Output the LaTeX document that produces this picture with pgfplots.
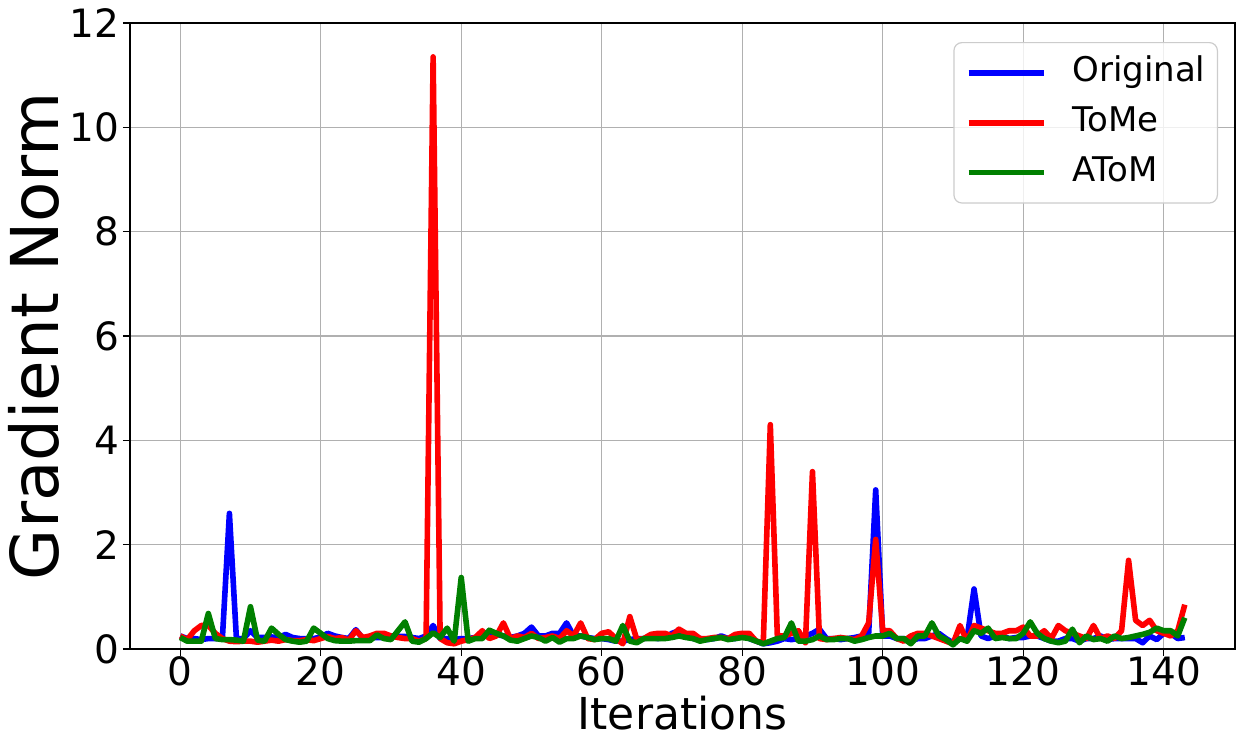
\documentclass[border=0pt]{standalone}
\usepackage{fontspec}
\setmainfont{DejaVu Sans}
\usepackage{pgfplots}
\pgfplotsset{compat=1.18}
\definecolor{mplgrid}{RGB}{176,176,176}
\definecolor{mplgreen}{RGB}{0,128,0}
\definecolor{legframe}{RGB}{204,204,204}

\pgfplotstableread{
x orig tome atom
0 0.25 0.25 0.22
1 0.20 0.18 0.15
2 0.20 0.35 0.15
3 0.18 0.45 0.15
4 0.20 0.45 0.68
5 0.20 0.30 0.20
6 0.20 0.20 0.18
7 2.60 0.15 0.18
8 0.20 0.14 0.17
9 0.20 0.15 0.15
10 0.35 0.15 0.81
11 0.22 0.13 0.17
12 0.22 0.15 0.15
13 0.23 0.17 0.40
14 0.22 0.15 0.28
15 0.28 0.18 0.18
16 0.22 0.16 0.15
17 0.20 0.16 0.13
18 0.20 0.18 0.15
19 0.20 0.16 0.40
20 0.23 0.20 0.30
21 0.30 0.24 0.20
22 0.25 0.20 0.16
23 0.22 0.22 0.15
24 0.20 0.17 0.15
25 0.37 0.35 0.16
26 0.20 0.22 0.16
27 0.22 0.25 0.16
28 0.22 0.30 0.27
29 0.22 0.30 0.20
30 0.25 0.25 0.18
31 0.24 0.22 0.35
32 0.24 0.20 0.52
33 0.22 0.20 0.15
34 0.20 0.15 0.13
35 0.25 0.20 0.20
36 0.45 11.35 0.31
37 0.20 0.20 0.22
38 0.20 0.12 0.40
39 0.18 0.10 0.15
40 0.20 0.15 1.37
41 0.20 0.18 0.15
42 0.22 0.22 0.20
43 0.25 0.35 0.20
44 0.25 0.20 0.36
45 0.28 0.25 0.30
46 0.25 0.50 0.25
47 0.22 0.20 0.17
48 0.25 0.25 0.15
49 0.30 0.22 0.20
50 0.42 0.30 0.25
51 0.25 0.20 0.22
52 0.25 0.22 0.15
53 0.30 0.25 0.22
54 0.30 0.20 0.13
55 0.50 0.35 0.20
56 0.25 0.25 0.20
57 0.25 0.50 0.25
58 0.22 0.20 0.22
59 0.20 0.18 0.18
60 0.20 0.30 0.20
61 0.18 0.33 0.20
62 0.15 0.20 0.15
63 0.15 0.10 0.45
64 0.18 0.62 0.15
65 0.20 0.18 0.12
66 0.20 0.20 0.20
67 0.22 0.28 0.20
68 0.20 0.30 0.20
69 0.22 0.30 0.20
70 0.30 0.25 0.22
71 0.35 0.38 0.25
72 0.28 0.30 0.22
73 0.20 0.30 0.20
74 0.20 0.20 0.15
75 0.18 0.20 0.18
76 0.20 0.22 0.20
77 0.25 0.22 0.22
78 0.20 0.20 0.18
79 0.20 0.28 0.20
80 0.25 0.30 0.22
81 0.20 0.30 0.20
82 0.15 0.15 0.15
83 0.10 0.12 0.10
84 0.12 4.30 0.15
85 0.15 0.25 0.20
86 0.20 0.25 0.22
87 0.18 0.30 0.50
88 0.20 0.35 0.15
89 0.25 0.12 0.15
90 0.30 3.40 0.18
91 0.38 0.20 0.25
92 0.20 0.18 0.18
93 0.20 0.20 0.18
94 0.18 0.22 0.20
95 0.20 0.20 0.20
96 0.22 0.18 0.15
97 0.25 0.25 0.18
98 0.30 0.50 0.22
99 3.05 2.10 0.25
100 0.25 0.35 0.25
101 0.25 0.35 0.30
102 0.20 0.20 0.20
103 0.20 0.15 0.20
104 0.15 0.25 0.10
105 0.20 0.30 0.25
106 0.20 0.30 0.25
107 0.25 0.25 0.50
108 0.30 0.20 0.25
109 0.20 0.15 0.18
110 0.12 0.10 0.08
111 0.20 0.45 0.20
112 0.20 0.15 0.15
113 1.15 0.45 0.35
114 0.25 0.40 0.30
115 0.20 0.35 0.40
116 0.25 0.30 0.20
117 0.25 0.30 0.22
118 0.20 0.35 0.20
119 0.22 0.35 0.20
120 0.22 0.42 0.30
121 0.25 0.25 0.52
122 0.25 0.25 0.30
123 0.20 0.35 0.20
124 0.15 0.20 0.15
125 0.15 0.45 0.12
126 0.20 0.35 0.15
127 0.20 0.30 0.38
128 0.15 0.25 0.12
129 0.20 0.20 0.25
130 0.20 0.45 0.18
131 0.25 0.20 0.20
132 0.18 0.25 0.15
133 0.20 0.20 0.25
134 0.20 0.35 0.20
135 0.20 1.70 0.22
136 0.20 0.55 0.25
137 0.12 0.45 0.28
138 0.25 0.55 0.32
139 0.18 0.35 0.40
140 0.30 0.30 0.35
141 0.30 0.25 0.35
142 0.20 0.35 0.25
143 0.22 0.85 0.60
}\gradtable

\begin{document}
\begin{tikzpicture}
\begin{axis}[
  scale only axis,
  width=552.5pt, height=313pt,
  xmin=-7.15, xmax=150.15,
  ymin=0, ymax=12,
  xtick={0,20,...,140},
  ytick={0,2,...,12},
  grid=major,
  grid style={mplgrid, line width=0.6pt},
  axis line style={black, line width=0.7pt},
  tick align=outside,
  major tick length=3.5pt,
  tick style={black, line width=0.7pt},
  xtick pos=bottom, ytick pos=left,
  /pgf/number format/assume math mode=true,
  tick label style={font=\fontsize{19.5}{23}\selectfont, inner sep=0pt},
  yticklabel style={xshift=-1.5pt},
  xlabel={Iterations},
  ylabel={Gradient Norm},
  xlabel style={font=\fontsize{22}{26}\selectfont,
    at={(axis description cs:0.5,-0.1294)}, anchor=base},
  ylabel style={font=\fontsize{33}{38}\selectfont,
    at={(axis description cs:-0.0645,0.5)}, anchor=base},
  legend style={at={(axis description cs:0.9846,0.9696)}, anchor=north east,
    font=\fontsize{17}{20}\selectfont,
    draw=legframe, line width=0.6pt, rounded corners=4pt,
    fill=white, fill opacity=0.8, text opacity=1,
    nodes={inner sep=0pt, text height=12.4pt, text depth=4pt},
    row sep=8.5pt, column sep=13pt,
    inner xsep=6pt, inner ysep=7pt},
  legend cell align=left,
  legend image code/.code={\draw[#1, line width=2.7pt] (0pt,0pt) -- (37.5pt,0pt);},
]
\addplot[blue, line width=2.8pt, line join=round] table[x=x, y=orig] {\gradtable};
\addplot[red, line width=2.8pt, line join=round] table[x=x, y=tome] {\gradtable};
\addplot[mplgreen, line width=2.8pt, line join=round] table[x=x, y=atom] {\gradtable};
\legend{Original, ToMe, AToM}
\end{axis}
\pgfresetboundingbox
\path[use as bounding box] ([shift={(-65pt,-49pt)}]current axis.south west)
  rectangle ([shift={(5.5pt,11.5pt)}]current axis.north east);
\end{tikzpicture}
\end{document}
